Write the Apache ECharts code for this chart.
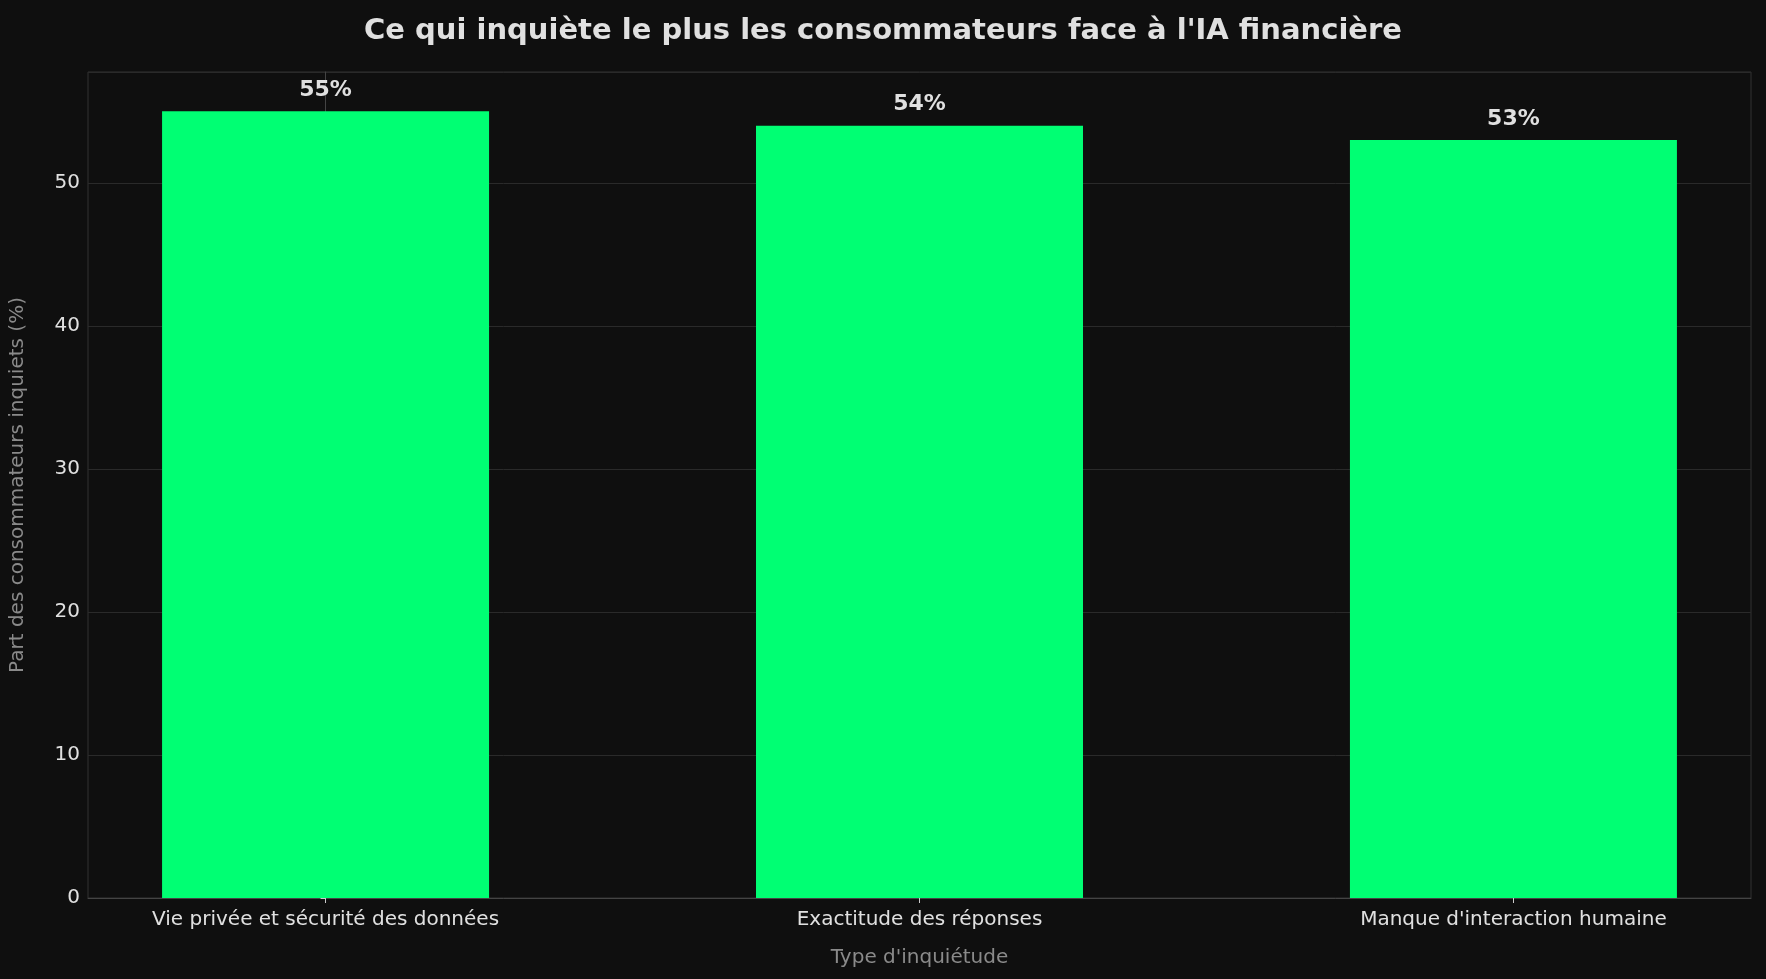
<!DOCTYPE html>
<html><head><meta charset="utf-8">
<script src="https://cdn.jsdelivr.net/npm/echarts@6/dist/echarts.min.js"></script>
<style>html,body{margin:0;background:#0f0f0f}#c{width:1766px;height:979px}</style>
</head><body><div id="c"></div>
<script>
const categories = ["Vie privée et sécurité des données", "Exactitude des réponses", "Manque d'interaction humaine"];
const values = [55, 54, 53];
const positions = categories.map((_, i) => i);
const chart = echarts.init(document.getElementById('c'));
chart.setOption({
  backgroundColor: '#0f0f0f',
  animation: false,
  title: { text: "Ce qui inquiète le plus les consommateurs face à l'IA financière", left: 'center', top: 12,
    textStyle: { color: '#e0e0e0', fontSize: 29, fontWeight: 'bold', fontFamily: 'DejaVu Sans' } },
  grid: { left: 83, right: 15, top: 72, bottom: 81, show: true, borderColor: '#333', borderWidth: 1 },
  xAxis: { type: 'value', min: -0.4, max: 2.4, name: "Type d'inquiétude", nameLocation: 'middle', nameGap: 50,
    nameTextStyle: { color: '#8a8a8a', fontSize: 20, fontFamily: 'DejaVu Sans' },
    splitLine: { show: false },
    axisLine: { lineStyle: { color: '#444' } },
    axisTick: { show: true, customValues: positions, lineStyle: { color: '#ccc' } },
    axisLabel: { customValues: positions, formatter: v => categories[Math.round(v)], color: '#e0e0e0', fontSize: 20, fontFamily: 'DejaVu Sans', margin: 12 } },
  yAxis: { type: 'value', min: 0, max: 57.75, interval: 10, name: 'Part des consommateurs inquiets (%)',
    nameLocation: 'middle', nameGap: 60, nameTextStyle: { color: '#8a8a8a', fontSize: 20, fontFamily: 'DejaVu Sans' },
    axisLine: { show: true, lineStyle: { color: '#444' } }, axisTick: { show: true, lineStyle: { color: '#ccc' } },
    axisLabel: { color: '#e0e0e0', fontSize: 20, fontFamily: 'DejaVu Sans', showMaxLabel: false },
    splitLine: { lineStyle: { color: '#2a2a2a' } } },
  series: [{ type: 'bar', data: values.map((v, i) => [positions[i], v]), barWidth: 327, itemStyle: { color: '#00ff73' },
    label: { show: true, position: 'top', distance: 10, formatter: p => p.value[1] + '%', color: '#e0e0e0', fontSize: 22, fontWeight: 'bold', fontFamily: 'DejaVu Sans' } }]
});
</script></body></html>
